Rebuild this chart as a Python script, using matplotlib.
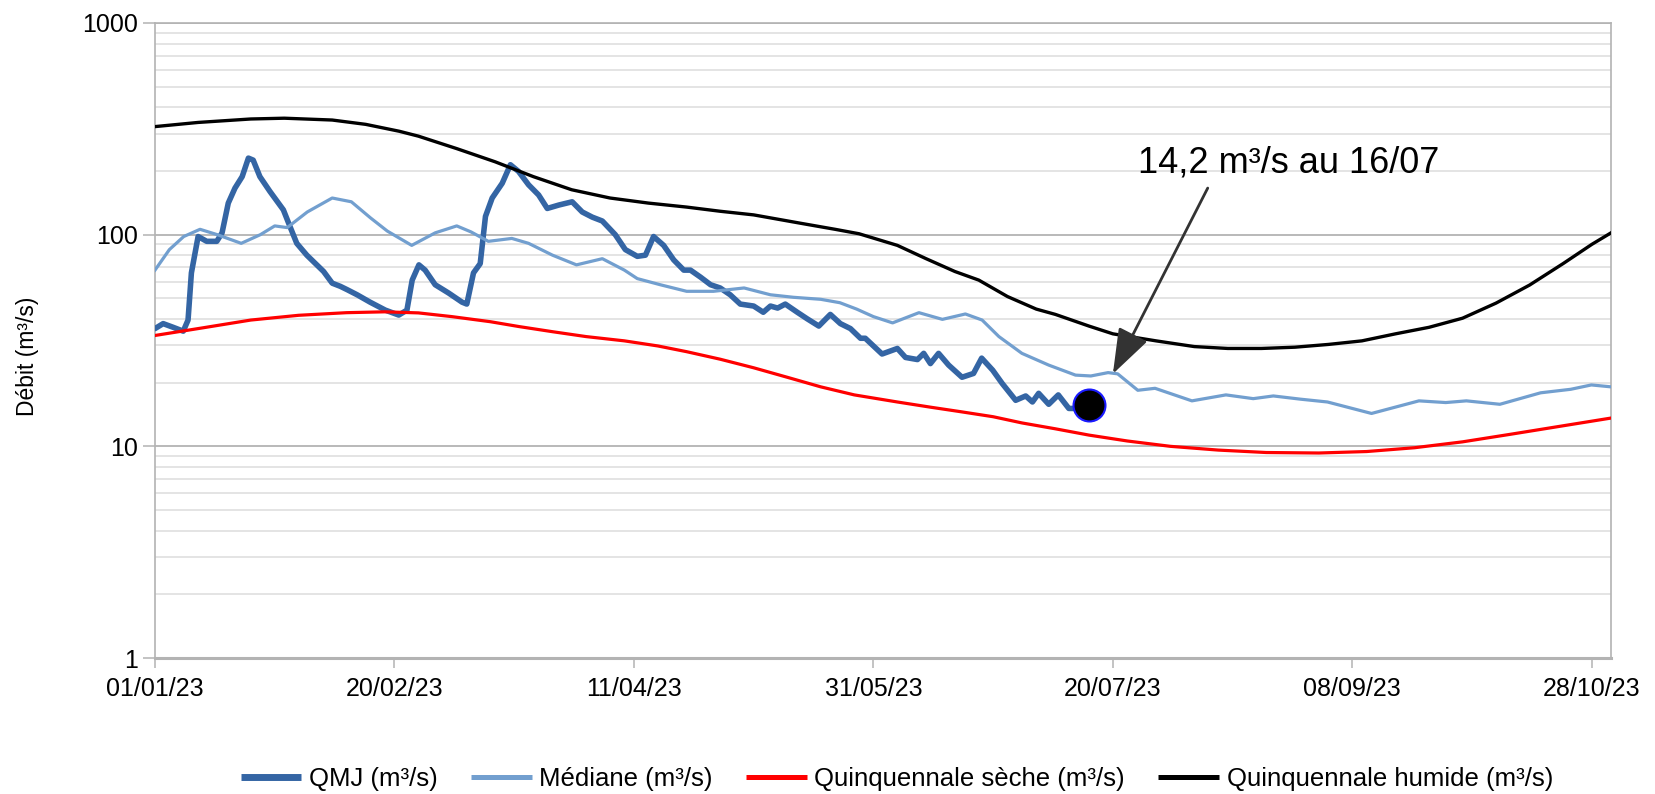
import matplotlib
matplotlib.use('Agg')
import matplotlib.pyplot as plt
from matplotlib.lines import Line2D
from matplotlib.ticker import FixedLocator, NullFormatter

plt.rcParams['font.family'] = ['Liberation Sans', 'DejaVu Sans']

# ---- data (day of year 2023, 0 = 01/01/23) ----
qmj_days = [0, 1.7, 3.8, 5.9, 6.9, 7.6, 9, 10.8, 12.9, 14, 15.3, 16.7, 18.2, 19.5, 20.5,
            21.9, 24, 26.8, 28.2, 29.6, 31.7, 35.2, 37, 38.7, 40.1, 42.2, 44.9, 48.1, 50.9,
            52.6, 53.7, 55.1, 56.4, 58.5, 61.3, 64.1, 65.1, 66.5, 67.9, 69, 70.4, 72.5, 74.2,
            75.9, 78, 80.1, 81.9, 84.3, 87.1, 89.2, 91.3, 93.4, 96.1, 98.2, 100.7, 102.4,
            104.1, 106.2, 108.3, 110.4, 111.8, 113.9, 116, 118, 120.1, 122.2, 125, 127, 128.5,
            130, 131.6, 134.1, 136.2, 138.6, 141, 143.1, 145.2, 147.3, 148.3, 151.8, 155,
            156.7, 159.2, 160.5, 161.9, 163.6, 165.7, 168.5, 170.9, 172.6, 174.9, 176.9,
            179.7, 181.8, 183.2, 184.5, 186.6, 188.6, 190.8, 192.2]
qmj_vals = [36, 38, 36.5, 35, 39.5, 66, 98, 93, 93, 102, 141, 166, 188, 230, 225,
            188, 160, 131, 109, 91, 80, 67, 59, 57, 55, 52, 48, 44, 41.7,
            44, 61, 72, 68, 58, 53, 48, 47, 66, 73, 122, 149, 175, 214,
            199, 172, 154, 133, 138, 143, 128, 121, 116, 100, 85, 79, 80,
            98, 89, 76, 68, 68, 63, 58, 56, 52, 47, 46, 43, 46,
            45, 47, 43, 40, 37, 42, 38, 36, 32.4, 32.4, 27.3, 29,
            26.3, 25.7, 27.5, 24.6, 27.5, 24.2, 21.2, 22.1, 26.1, 22.9, 19.8,
            16.5, 17.3, 16.2, 17.8, 15.8, 17.5, 15.1, 15.1]

med_days = [0, 3, 6, 9.4, 13, 18, 22, 25, 27.6, 31.8, 37, 41, 45, 48.5, 53.6, 58.5, 63, 66,
            69.6, 74.5, 78, 83, 88, 93.4, 98, 100.7, 105.5, 111, 116.6, 123, 128.5, 133.3,
            139, 143, 146.5, 150, 154, 159.5, 164.4, 169.2, 172.7, 176.2, 181, 186.6, 192.2,
            195.4, 199, 201, 205.2, 208.8, 216.5, 223.6, 229.3, 233.5, 239.2, 244.8, 254,
            263.9, 269.5, 273.8, 280.8, 289.3, 295.6, 299.9, 304]
med_vals = [68, 85, 98, 106, 100, 91, 100, 110, 108, 128, 149, 143, 120, 104, 89, 102, 110, 103,
            93, 96, 91, 80, 72, 77, 68, 62, 58, 54, 54, 56, 52, 50.6,
            49.5, 47.7, 44.5, 41, 38.3, 42.8, 39.8, 42.2, 39.5, 33, 27.5, 24.2, 21.7,
            21.5, 22.3, 22, 18.4, 18.8, 16.4, 17.5, 16.8, 17.3, 16.7, 16.2, 14.3,
            16.4, 16.1, 16.4, 15.8, 17.9, 18.6, 19.5, 19.1]

seche_days = [0, 10, 20, 30, 40, 48, 55, 62, 70, 76, 83, 90, 98, 105, 111, 118, 125, 132,
              139, 146, 155, 162, 168, 175, 181, 188, 195, 203, 212, 222, 232, 243, 253,
              263, 273, 283, 293, 304]
seche_vals = [33.4, 36.3, 39.5, 41.6, 42.8, 43.2, 42.7, 41, 38.8, 36.8, 34.8, 33, 31.5, 29.8,
              28, 25.8, 23.5, 21.2, 19.1, 17.5, 16.2, 15.3, 14.6, 13.8, 12.9, 12.1, 11.3,
              10.6, 10.0, 9.6, 9.35, 9.3, 9.45, 9.85, 10.5, 11.4, 12.4, 13.6]

humide_days = [0, 9, 20, 27, 37, 44, 51, 55, 63, 71, 79, 87, 95, 103, 111, 118, 125, 135,
               142, 147, 155, 161, 167, 172, 178, 184, 188, 195, 200, 209, 217, 224, 231,
               238, 245, 252, 259, 266, 273, 280, 287, 294, 300, 304]
humide_vals = [324, 339, 352, 355, 348, 332, 308, 292, 255, 221, 188, 163, 149, 141, 135, 129,
               124, 113, 106, 101, 89, 77, 67, 61, 51, 44.5, 42, 37, 34, 31.5, 29.6, 29, 29,
               29.4, 30.3, 31.5, 34, 36.5, 40.3, 47.5, 57.8, 73, 90, 102]

dot_day, dot_val = 195, 15.6
annot_text = "14,2 m³/s au 16/07"
arrow_tip = (200, 22.0)
arrow_tail = (219.8, 166)
text_pos = (236.7, 196)

xtick_days = [0, 50, 100, 150, 200, 250, 300]
xtick_labels = ["01/01/23", "20/02/23", "11/04/23", "31/05/23", "20/07/23", "08/09/23", "28/10/23"]
ytick_vals = [1, 10, 100, 1000]
ytick_labels = ["1", "10", "100", "1000"]

series_labels = ["QMJ (m³/s)", "Médiane (m³/s)", "Quinquennale sèche (m³/s)",
                 "Quinquennale humide (m³/s)"]
colors = ["#3465a4", "#729fcf", "#ff0000", "#000000"]

# ---- figure ----
W, H = 1655, 794
fig = plt.figure(figsize=(W / 100, H / 100), dpi=100)
ax = fig.add_axes([155 / W, 1 - 658 / H, (1611 - 155) / W, (658 - 23) / H])
ax.set_yscale('log')
ax.set_xlim(0, 304)
ax.set_ylim(1, 1000)

grid_major = '#b3b3b3'
grid_minor = '#dddddd'
ax.yaxis.set_major_locator(FixedLocator(ytick_vals))
ax.set_yticklabels(ytick_labels)
minors = [m * 10 ** e for e in range(0, 3) for m in range(2, 10)]
ax.yaxis.set_minor_locator(FixedLocator(minors))
ax.yaxis.set_minor_formatter(NullFormatter())
ax.grid(True, axis='y', which='major', color=grid_major, lw=1.3, zorder=0)
ax.grid(True, axis='y', which='minor', color=grid_minor, lw=1.1, zorder=0)
ax.set_axisbelow(True)

ax.set_xticks(xtick_days)
ax.set_xticklabels(xtick_labels)
ax.tick_params(axis='x', which='major', direction='out', length=7.5, width=1.1,
               color=grid_major, pad=6, labelsize=18)
ax.tick_params(axis='y', which='major', direction='out', length=8.3, width=1.1,
               color=grid_major, pad=4, labelsize=18)
ax.tick_params(axis='y', which='minor', length=0)

for side in ['left', 'right', 'top']:
    ax.spines[side].set_color(grid_major)
    ax.spines[side].set_linewidth(1.2)
ax.spines['bottom'].set_color(grid_major)
ax.spines['bottom'].set_linewidth(2.2)

ax.plot(qmj_days, qmj_vals, color=colors[0], lw=4.0, solid_joinstyle='round',
        solid_capstyle='round', zorder=3)
ax.plot(med_days, med_vals, color=colors[1], lw=2.3, solid_joinstyle='round', zorder=4)
ax.plot(seche_days, seche_vals, color=colors[2], lw=2.3, solid_joinstyle='round', zorder=4)
ax.plot(humide_days, humide_vals, color=colors[3], lw=2.4, solid_joinstyle='round', zorder=4)

ax.plot([dot_day], [dot_val], 'o', ms=23, mfc='black', mec='#1a1aff', mew=1.5,
        zorder=6, clip_on=False)

ax.annotate('', xy=arrow_tip, xytext=arrow_tail,
            arrowprops=dict(arrowstyle='-|>,head_length=1.4,head_width=0.5',
                            color='#333333', lw=2.0, mutation_scale=20,
                            shrinkA=0, shrinkB=0), zorder=7)
ax.text(text_pos[0], text_pos[1], annot_text, ha='center', va='baseline',
        fontsize=26, color='#000000', zorder=7)

fig.text(27.5 / W, 1 - 356.7 / H, "Débit (m³/s)", rotation=90, ha='center',
         va='center', fontsize=16.5)

handles = [Line2D([], [], color=colors[0], lw=5.0, solid_capstyle='butt'),
           Line2D([], [], color=colors[1], lw=3.6, solid_capstyle='butt'),
           Line2D([], [], color=colors[2], lw=3.6, solid_capstyle='butt'),
           Line2D([], [], color=colors[3], lw=3.6, solid_capstyle='butt')]
fig.legend(handles, series_labels, loc='center', bbox_to_anchor=(897 / W, 1 - 779 / H),
           ncol=4, frameon=False, fontsize=18.5, handlelength=2.35, handletextpad=0.3,
           columnspacing=1.3, borderaxespad=0, borderpad=0)

fig.savefig('out.png', dpi=100)
